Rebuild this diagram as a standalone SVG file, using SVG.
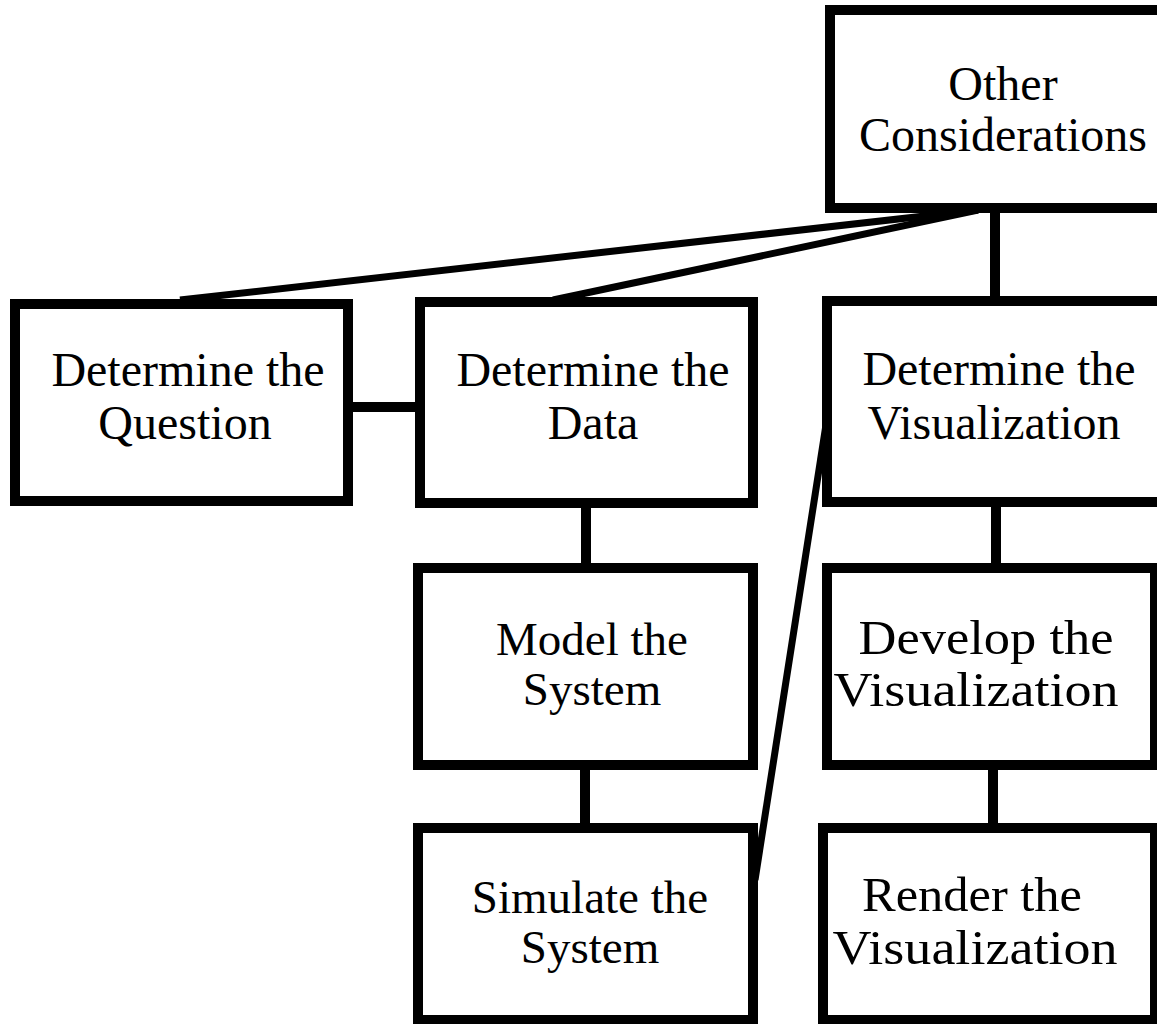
<svg xmlns="http://www.w3.org/2000/svg" width="1157" height="1024" viewBox="0 0 1157 1024">
<style>
.box{fill:#fff;stroke:#000;stroke-width:10}
.conn{stroke:#000;stroke-width:10;fill:none}
.diag{stroke:#000;stroke-width:7;fill:none}
text{font-family:"Liberation Serif","Times New Roman",serif;font-size:48px;fill:#000;text-anchor:middle}
.mid{font-size:47px}
</style>
<rect width="1157" height="1024" fill="#fff"/>
<g id="connectors">
<line class="conn" x1="995" y1="208" x2="995" y2="301"/>
<line class="conn" x1="348" y1="407" x2="420" y2="407"/>
<line class="conn" x1="586" y1="503" x2="586" y2="568"/>
<line class="conn" x1="585" y1="765" x2="585" y2="828"/>
<line class="conn" x1="996" y1="502" x2="996" y2="568"/>
<line class="conn" x1="993" y1="765" x2="993" y2="828"/>
<line class="diag" x1="978" y1="210" x2="180" y2="300"/>
<line class="diag" x1="978" y1="210" x2="553" y2="300"/>
<line class="diag" x1="755" y1="880" x2="828" y2="412"/>
</g>
<g id="other">
<rect class="box" x="830" y="10" width="340" height="198"/>
<text x="1003" y="100">Other</text>
<text x="1003" y="151">Considerations</text>
</g>
<g id="question">
<rect class="box" x="15" y="304" width="333" height="197"/>
<text x="188" y="386">Determine the</text>
<text x="185" y="439">Question</text>
</g>
<g id="data">
<rect class="box" x="420" y="302" width="333" height="201"/>
<text x="593" y="386">Determine the</text>
<text x="593" y="439">Data</text>
</g>
<g id="detvis">
<rect class="box" x="827" y="301" width="343" height="201"/>
<text x="999" y="385">Determine the</text>
<text x="994" y="439">Visualization</text>
</g>
<g id="model">
<rect class="box" x="418" y="568" width="335" height="197"/>
<text class="mid" x="592" y="655">Model the</text>
<text class="mid" x="592" y="705">System</text>
</g>
<g id="develop">
<rect class="box" x="827" y="568" width="328" height="197"/>
<text x="986" y="654" textLength="255" lengthAdjust="spacingAndGlyphs">Develop the</text>
<text x="976" y="706" textLength="285" lengthAdjust="spacingAndGlyphs">Visualization</text>
</g>
<g id="simulate">
<rect class="box" x="418" y="828" width="335" height="192"/>
<text class="mid" x="590" y="913">Simulate the</text>
<text class="mid" x="590" y="963">System</text>
</g>
<g id="render">
<rect class="box" x="823" y="828" width="332" height="192"/>
<text x="972" y="911" textLength="220" lengthAdjust="spacingAndGlyphs">Render the</text>
<text x="975" y="964" textLength="285" lengthAdjust="spacingAndGlyphs">Visualization</text>
</g>
</svg>
